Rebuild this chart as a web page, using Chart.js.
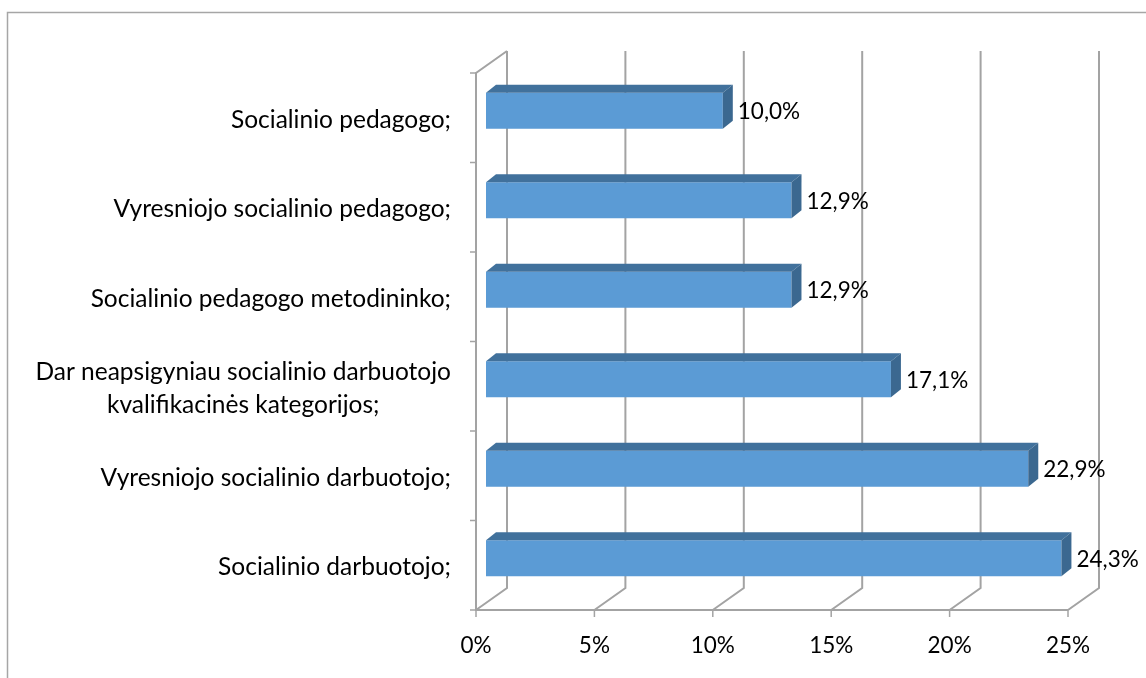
<!DOCTYPE html>
<html>
<head>
<meta charset="utf-8">
<script src="https://cdn.jsdelivr.net/npm/chart.js@4.4.1/dist/chart.umd.min.js"></script>
<style>
  html, body { margin: 0; padding: 0; background: #fff; }
  #wrap { width: 1146px; height: 678px; position: relative; }
</style>
</head>
<body>
<div id="wrap"><canvas id="c" width="1146" height="678"></canvas></div>
<script>
// ---- data ----
const categories = [
  ["Socialinio pedagogo;"],
  ["Vyresniojo socialinio pedagogo;"],
  ["Socialinio pedagogo metodininko;"],
  ["Dar neapsigyniau socialinio darbuotojo", "kvalifikacinės kategorijos;"],
  ["Vyresniojo socialinio darbuotojo;"],
  ["Socialinio darbuotojo;"]
];
const values = [10.0, 12.9, 12.9, 17.1, 22.9, 24.3];
const valueLabels = ["10,0%", "12,9%", "12,9%", "17,1%", "22,9%", "24,3%"];
const tickValues = [0, 5, 10, 15, 20, 25];
const tickLabels = ["0%", "5%", "10%", "15%", "20%", "25%"];

// ---- style ----
const FONT = "Lato, 'Open Sans', sans-serif";
const GRID = "#a3a3a3";
const DEPTH_X = 31, DEPTH_Y = -22;   // wall depth offset
const FRONT = "#5b9bd5", TOP = "#41719c", SIDE = "#3b6890";

const plugin3d = {
  id: 'plugin3d',
  beforeDatasetsDraw(chart) {
    const ctx = chart.ctx, x = chart.scales.x, y = chart.scales.y, ca = chart.chartArea;
    ctx.save();
    // outer frame
    ctx.strokeStyle = "#a6a6a6"; ctx.lineWidth = 1.5;
    ctx.strokeRect(7.5, 12.5, 1300, 800);
    ctx.strokeStyle = GRID; ctx.lineWidth = 2;
    // back wall gridlines + floor slants
    tickValues.forEach(v => {
      const px = x.getPixelForValue(v);
      ctx.beginPath();
      ctx.moveTo(px + DEPTH_X, ca.top + DEPTH_Y);
      ctx.lineTo(px + DEPTH_X, ca.bottom + DEPTH_Y);
      ctx.lineTo(px, ca.bottom);
      ctx.stroke();
    });
    // front floor line and left wall
    ctx.beginPath();
    ctx.moveTo(x.getPixelForValue(25), ca.bottom);
    ctx.lineTo(ca.left, ca.bottom);
    ctx.lineTo(ca.left, ca.top);
    ctx.lineTo(ca.left + DEPTH_X, ca.top + DEPTH_Y);
    ctx.stroke();
    // ticks
    ctx.lineWidth = 1.5;
    const n = categories.length;
    for (let i = 0; i <= n; i++) {
      const py = ca.top + (ca.bottom - ca.top) * i / n;
      ctx.beginPath(); ctx.moveTo(ca.left - 6, py); ctx.lineTo(ca.left, py); ctx.stroke();
    }
    tickValues.forEach(v => {
      const px = x.getPixelForValue(v);
      ctx.beginPath(); ctx.moveTo(px, ca.bottom); ctx.lineTo(px, ca.bottom + 7); ctx.stroke();
    });
    // tick labels
    ctx.fillStyle = "#000"; ctx.font = "22.5px " + FONT;
    ctx.textAlign = "center"; ctx.textBaseline = "middle";
    tickValues.forEach((v, i) => {
      ctx.fillText(tickLabels[i], x.getPixelForValue(v), ca.bottom + 36);
    });
    // category labels
    ctx.font = "24.5px " + FONT;
    categories.forEach((lines, i) => {
      const cy = y.getPixelForValue(i);
      const widths = lines.map(l => ctx.measureText(l).width);
      const maxW = Math.max(...widths);
      const right = ca.left - 25;
      const lh = 33;
      lines.forEach((l, k) => {
        ctx.textAlign = "center";
        ctx.fillText(l, right - maxW / 2, cy + (k - (lines.length - 1) / 2) * lh + 2);
      });
    });
    ctx.restore();
  },
  afterDatasetsDraw(chart) {
    const ctx = chart.ctx, meta = chart.getDatasetMeta(0);
    const dx = 10, dy = -7, bdx = 10, bdy = -8;
    ctx.save();
    meta.data.forEach((bar, i) => {
      const p = bar.getProps(['x', 'y', 'base', 'height'], true);
      const x0 = p.base + dx, x1 = p.x + dx;
      const t = p.y - p.height / 2 + dy, b = p.y + p.height / 2 + dy;
      // front
      ctx.fillStyle = FRONT;
      ctx.fillRect(x0, t, x1 - x0, b - t);
      // top
      ctx.fillStyle = TOP;
      ctx.beginPath();
      ctx.moveTo(x0, t); ctx.lineTo(x0 + bdx, t + bdy); ctx.lineTo(x1 + bdx, t + bdy); ctx.lineTo(x1, t);
      ctx.closePath(); ctx.fill();
      // side
      ctx.fillStyle = SIDE;
      ctx.beginPath();
      ctx.moveTo(x1, t); ctx.lineTo(x1 + bdx, t + bdy); ctx.lineTo(x1 + bdx, b + bdy); ctx.lineTo(x1, b);
      ctx.closePath(); ctx.fill();
      // value label
      ctx.fillStyle = "#000"; ctx.font = "22.5px " + FONT;
      ctx.textAlign = "left"; ctx.textBaseline = "middle";
      ctx.fillText(valueLabels[i], x1 + bdx + 5, p.y + dy + 1);
    });
    ctx.restore();
  }
};

new Chart(document.getElementById('c'), {
  type: 'bar',
  data: {
    labels: categories,
    datasets: [{
      data: values,
      backgroundColor: 'rgba(0,0,0,0)',
      borderWidth: 0,
      barThickness: 36
    }]
  },
  options: {
    indexAxis: 'y',
    responsive: false,
    animation: false,
    events: [],
    layout: { padding: { left: 476, right: 78, top: 73, bottom: 68 } },
    plugins: { legend: { display: false }, tooltip: { enabled: false } },
    scales: {
      x: { display: false, min: 0, max: 25, ticks: { stepSize: 5 } },
      y: { display: false, offset: true }
    }
  },
  plugins: [plugin3d]
});
</script>
</body>
</html>
